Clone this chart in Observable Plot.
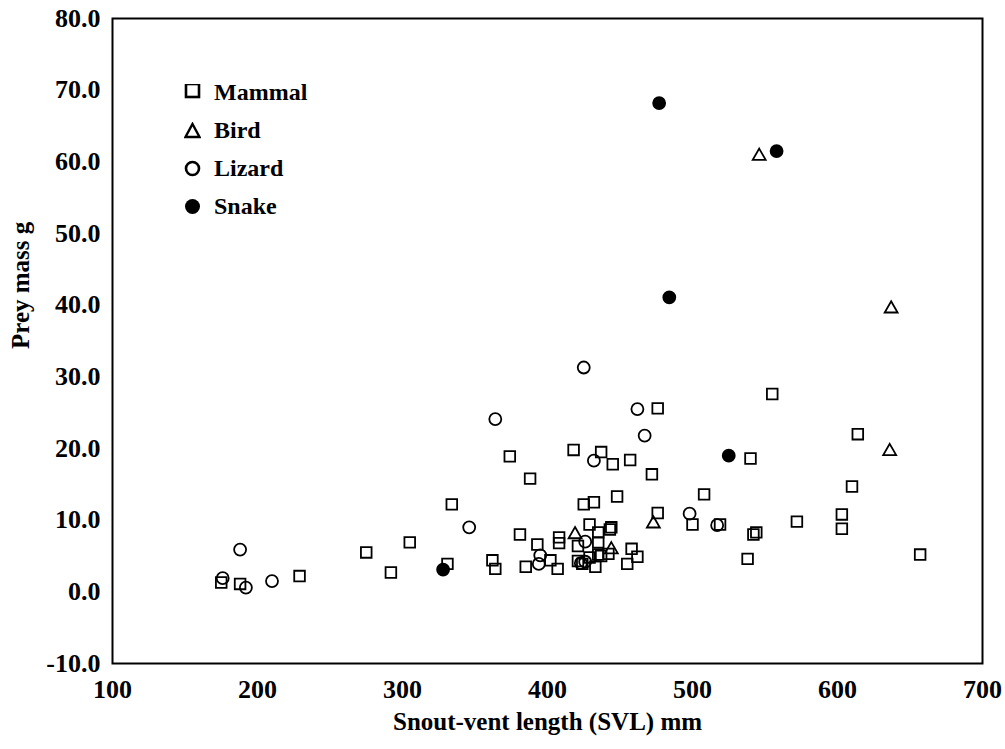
<!DOCTYPE html>
<html>
<head>
<meta charset="utf-8">
<script src="https://cdn.jsdelivr.net/npm/d3@7"></script>
<script src="https://cdn.jsdelivr.net/npm/@observablehq/plot@0.6"></script>
<style>
  body { margin: 0; background: #fff; }
  #wrap { position: relative; width: 1005px; height: 749px; }
  #legend { position: absolute; left: 184px; top: 73px; font: bold 24px "Liberation Serif", "Times New Roman", serif; color: #000; }
  #legend .row { height: 38px; display: flex; align-items: center; }
  #legend .row svg { margin-right: 13px; display: block; }
</style>
</head>
<body>
<div id="wrap"><div id="legend"></div></div>
<script>
// [SVL mm, prey mass g]
const mammal = [
  [175,1.3],[188,1.1],[229,2.2],[275,5.5],[292,2.7],[305,6.9],[331,3.9],[334,12.2],
  [362,4.4],[364,3.2],[374,18.9],[381,8.0],[385,3.5],[388,15.8],[393,6.6],[402,4.4],[407,3.2],[408,7.6],[408,6.8],
  [418,19.8],[421,6.4],[421,4.3],[424,3.9],[425,12.2],[429,9.4],[429,4.8],[432,12.5],[433,3.5],[435,8.3],[435,6.9],
  [435,5.2],[437,19.5],[437,5.0],[442,5.3],[443,8.7],[444,9.0],[445,17.8],[448,13.3],[455,3.9],[457,18.4],[458,6.0],
  [462,4.9],[472,16.4],[476,25.6],[476,11.0],[500,9.4],[508,13.6],[519,9.4],[538,4.6],[540,18.6],[542,8.0],[544,8.3],
  [555,27.6],[572,9.8],[603,10.8],[603,8.8],[610,14.7],[614,22.0],[657,5.2]
];
const bird = [[419,8.0],[444,5.9],[473,9.5],[546,60.8],[636,19.6],[637,39.5]];
const lizard = [
  [176,1.9],[188,5.9],[192,0.6],[210,1.5],[346,9.0],[364,24.1],[394,3.9],[395,5.1],[423,4.0],[426,4.2],
  [426,7.0],[425,31.3],[432,18.3],[462,25.5],[467,21.8],[498,10.9],[517,9.3]
];
const snake = [[328,3.1],[477,68.2],[484,41.1],[525,19.0],[558,61.5]];

const groups = ["Mammal", "Bird", "Lizard", "Snake"];
const xTicks = [100, 200, 300, 400, 500, 600, 700];
const yTicks = [-10, 0, 10, 20, 30, 40, 50, 60, 70, 80];
const xTitle = "Snout-vent length (SVL) mm";
const yTitle = "Prey mass g";

const font = '"Liberation Serif", "Times New Roman", serif';
const dotOpts = (symbol, fill, r) => ({x: d => d[0], y: d => d[1], symbol, r, stroke: "black", strokeWidth: 1.8, fill});

const chart = Plot.plot({
  width: 1005,
  height: 749,
  marginLeft: 112,
  marginRight: 23,
  marginTop: 18,
  marginBottom: 86,
  x: {domain: [100, 700]},
  y: {domain: [-10, 80]},
  style: {fontFamily: font, background: "white", color: "black"},
  marks: [
    Plot.frame({stroke: "black", strokeWidth: 2}),
    Plot.axisX({ticks: xTicks, tickSize: 0, tickPadding: 16, label: null, fontSize: 26, fontWeight: "bold", tickFormat: d => String(d)}),
    Plot.axisY({ticks: yTicks, tickSize: 0, tickPadding: 12, label: null, fontSize: 26, fontWeight: "bold", tickFormat: d => d.toFixed(1)}),
    Plot.dot(mammal, dotOpts("square", "none", 6)),
    Plot.dot(bird, dotOpts("triangle", "none", 4.8)),
    Plot.dot(lizard, dotOpts("circle", "none", 6)),
    Plot.dot(snake, dotOpts("circle", "black", 6)),
    Plot.text([xTitle], {frameAnchor: "bottom", dy: 66, text: d => d, fontSize: 25, fontWeight: "bold"}),
    Plot.text([yTitle], {frameAnchor: "left", dx: -92, dy: 8, rotate: -90, text: d => d, fontSize: 25, fontWeight: "bold"})
  ]
});
document.getElementById("wrap").prepend(chart);

// legend (inside plot area, top-left)
const icons = {
  Mammal: '<rect x="2" y="0" width="13" height="13" fill="none" stroke="black" stroke-width="2.6"/>',
  Bird: '<path d="M8.5 2 L15.5 15 L1.5 15 Z" fill="none" stroke="black" stroke-width="2.4"/>',
  Lizard: '<circle cx="8.5" cy="8.5" r="6.5" fill="none" stroke="black" stroke-width="2.6"/>',
  Snake: '<circle cx="8.5" cy="8.5" r="7.5" fill="black"/>'
};
const legend = document.getElementById("legend");
for (const g of groups) {
  const row = document.createElement("div");
  row.className = "row";
  row.innerHTML = `<svg width="17" height="17" viewBox="0 0 17 17">${icons[g]}</svg><span>${g}</span>`;
  legend.appendChild(row);
}
</script>
</body>
</html>
